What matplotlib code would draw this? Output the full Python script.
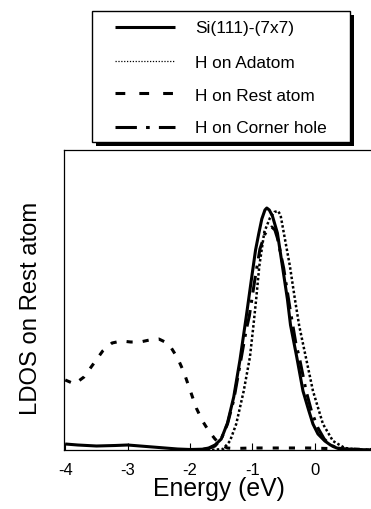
import matplotlib
matplotlib.use("Agg")
import matplotlib.pyplot as plt
from matplotlib.lines import Line2D
from matplotlib.patches import Rectangle

plt.rcParams['font.family'] = ['Liberation Sans', 'DejaVu Sans']

# ---- data ----
labels = ["Si(111)-(7x7)", "H on Adatom", "H on Rest atom", "H on Corner hole"]

e_clean = [-4.0, -3.8, -3.5, -3.2, -3.0, -2.8, -2.5, -2.2, -2.0, -1.8, -1.7, -1.6, -1.5,
           -1.4, -1.3, -1.2, -1.1, -1.0, -0.95, -0.9, -0.85, -0.8, -0.77, -0.73, -0.68,
           -0.6, -0.52, -0.44, -0.39, -0.29, -0.19, -0.1, -0.03, 0.05, 0.16, 0.25, 0.35,
           0.5, 0.9]
ldos_clean = [6, 5, 4, 4.5, 5, 4, 2.5, 1, 0.5, 0.8, 2, 5, 11, 27, 53, 90, 133, 178, 200,
              216, 231, 240, 242, 240, 234, 217, 184, 151, 125, 93, 59, 40, 26, 16, 9, 5,
              2, 1, 0]

e_adatom = [-1.8, -1.7, -1.6, -1.47, -1.36, -1.26, -1.14, -1.04, -0.985, -0.94, -0.89,
            -0.81, -0.72, -0.65, -0.59, -0.55, -0.5, -0.4, -0.32, -0.25, -0.145, -0.03,
            0.13, 0.29, 0.48, 0.7, 0.9]
ldos_adatom = [0, 0, 0.3, 1, 9, 26, 59, 93, 124, 151, 184, 218, 232, 238, 239, 235, 218,
               184, 151, 124, 93, 59, 26, 9, 2, 0.3, 0]

e_rest = [-4.0, -3.85, -3.7, -3.55, -3.4, -3.25, -3.1, -2.95, -2.8, -2.65, -2.5, -2.4,
          -2.3, -2.2, -2.1, -2.0, -1.9, -1.8, -1.7, -1.6, -1.5, -1.4, -1.3, -1.0, -0.7,
          -0.4, -0.1, 0.2, 0.5, 0.9]
ldos_rest = [70, 66, 73, 86, 99, 107, 109, 108, 108, 110, 111, 108, 102, 92, 78, 60, 42,
             29, 19, 11, 5, 2, 1.5, 2, 2, 2, 2, 1.5, 1, 0.5]

e_corner = [-1.8, -1.7, -1.6, -1.5, -1.4, -1.3, -1.2, -1.1, -1.05, -0.97, -0.88, -0.8,
            -0.74, -0.69, -0.64, -0.6, -0.5, -0.4, -0.3, -0.25, -0.14, -0.05, 0.05, 0.15,
            0.25, 0.35, 0.5, 0.9]
ldos_corner = [0.5, 1.5, 4, 11, 26, 50, 85, 120, 134, 167, 201, 216, 221, 223, 220, 212,
               182, 142, 105, 93, 59, 38, 22, 11, 5, 2, 0.5, 0]

xticks = [-4, -3, -2, -1, 0]
xticklabels = ["-4", "-3", "-2", "-1", "0"]

# ---- styles ----
W, H = 371, 510
styles = [
    dict(color='black', lw=2.2, ls='-'),
    dict(color='black', lw=1.8, ls=(0, (1, 0.9))),
    dict(color='black', lw=2.2, ls=(0, (2, 3.3))),
    dict(color='black', lw=2.2, ls=(0, (5.5, 2.4, 1, 2.4))),
]

fig = plt.figure(figsize=(W / 100, H / 100), dpi=100)
ax = fig.add_axes([64 / W, (H - 451) / H, 1 - 64 / W, 300 / H])

series = [(e_clean, ldos_clean), (e_adatom, ldos_adatom),
          (e_rest, ldos_rest), (e_corner, ldos_corner)]
for (e, v), st in zip(series, styles):
    ax.plot(e, v, color=st['color'], lw=st['lw'], ls=st['ls'], solid_capstyle='butt')

ax.set_xlim(-4.02, 0.90)
ax.set_ylim(0, 300)
ax.set_xticks(xticks)
ax.set_xticklabels(xticklabels, fontsize=12)
ax.set_yticks([])
ax.tick_params(axis='x', direction='in', length=5, width=0.8, pad=8.5)
ax.spines['right'].set_visible(False)
for s in ('left', 'bottom', 'top'):
    ax.spines[s].set_linewidth(0.9)

fig.text(218.9 / W, 1 - 477 / H, "Energy (eV)", fontsize=17.8, ha='center', va='top')
fig.text(42 / W, 1 - 308 / H, "LDOS on Rest atom", fontsize=17.2, rotation=90,
         ha='right', va='center')

# ---- legend box (drawn manually) ----
bx0, bx1, by0, by1 = 92, 350, 12, 143
fig.add_artist(Rectangle(((bx0 + 4) / W, 1 - (by1 + 4) / H), (bx1 - bx0) / W,
                         (by1 - by0) / H, transform=fig.transFigure,
                         facecolor='black', edgecolor='black', lw=0, zorder=5))
fig.add_artist(Rectangle((bx0 / W, 1 - by1 / H), (bx1 - bx0) / W, (by1 - by0) / H,
                         transform=fig.transFigure, facecolor='white',
                         edgecolor='black', lw=1.0, zorder=6))
row_line_y = [28.3, 61.7, 94.3, 127.7]
row_base_y = [33.3, 68.3, 101.0, 133.3]
leg_styles = [
    dict(lw=2.2, ls='-'),
    dict(lw=0.9, ls=(0, (1, 1.3))),
    dict(lw=2.2, ls=(0, (3.2, 4.6))),
    dict(lw=2.2, ls=(0, (7, 3, 1.2, 3))),
]
for lab, ly, ty, st in zip(labels, row_line_y, row_base_y, leg_styles):
    fig.add_artist(Line2D([115 / W, 175 / W], [1 - ly / H, 1 - ly / H],
                          transform=fig.transFigure, color='black', lw=st['lw'],
                          ls=st['ls'], zorder=7, solid_capstyle='butt'))
    fig.text(195 / W, 1 - ty / H, lab, fontsize=12.4, ha='left', va='baseline', zorder=7)

fig.savefig("out.png", dpi=100)
